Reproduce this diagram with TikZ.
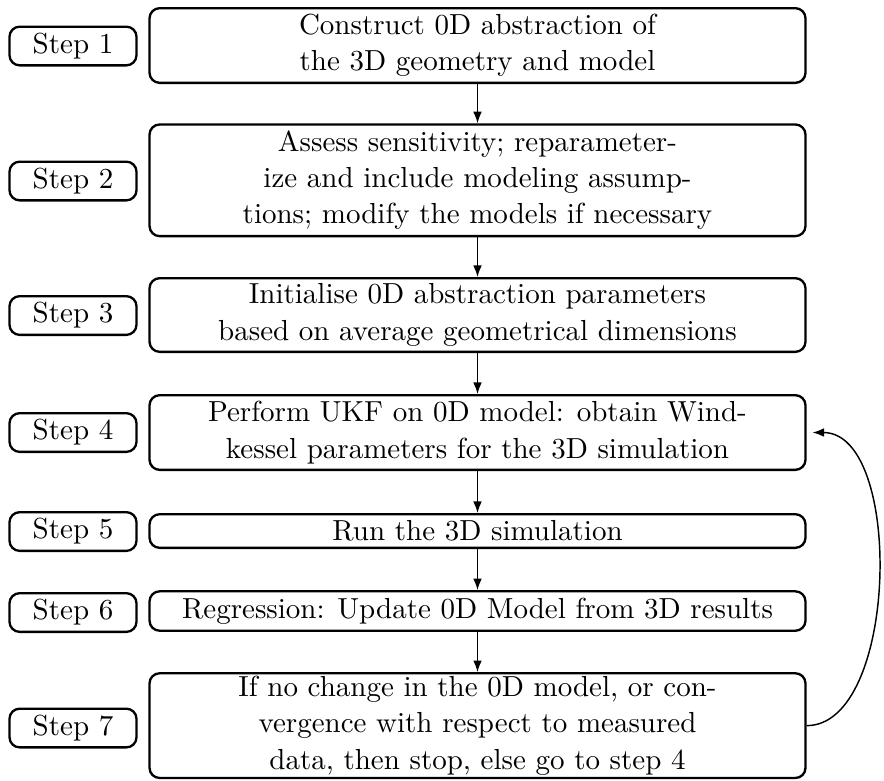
\documentclass[tikz,border=0pt]{standalone}
\usetikzlibrary{arrows.meta}
\begin{document}
\begin{tikzpicture}[x=0.34483pt,y=-0.34483pt,
  box/.style={draw, line width=0.8pt, rounded corners=3.5pt, inner sep=1pt, align=center,
    font=\fontsize{10pt}{12.5pt}\selectfont},
  stepbox/.style={box, minimum width=43.8pt, minimum height=13.34pt},
  mainbox/.style={box, minimum width=226.2pt},
  arr/.style={-{Latex[length=4pt,width=3pt]}, line width=0.5pt}]
\useasboundingbox (0,0) rectangle (884,780);
% step labels
\node[stepbox] (s1) at (73,46) {Step 1};
\node[stepbox] (s2) at (73,181) {Step 2};
\node[stepbox] (s3) at (73,315.5) {Step 3};
\node[stepbox] (s4) at (73,432.5) {Step 4};
\node[stepbox] (s5) at (73,531.5) {Step 5};
\node[stepbox] (s6) at (73,612.5) {Step 6};
\node[stepbox] (s7) at (73,728) {Step 7};
% main boxes
\node[mainbox, minimum height=25.75pt] (b1) at (477.5,45.5)
  {Construct 0D abstraction of\\the 3D geometry and model};
\node[mainbox, minimum height=38.5pt] (b2) at (477.5,180.3)
  {Assess sensitivity; reparameter-\\ize and include modeling assump-\\tions; modify the models if necessary};
\node[mainbox, minimum height=25.4pt] (b3) at (477.5,315)
  {Initialise 0D abstraction parameters\\based on average geometrical dimensions};
\node[mainbox, minimum height=25.75pt] (b4) at (477.5,432.5)
  {Perform UKF on 0D model: obtain Wind-\\kessel parameters for the 3D simulation};
\node[mainbox, minimum height=11.6pt] (b5) at (477.5,531)
  {Run the 3D simulation};
\node[mainbox, minimum height=13.6pt] (b6) at (477.5,611)
  {Regression: Update 0D Model from 3D results};
\node[mainbox, minimum height=36pt] (b7) at (477.5,725.6)
  {If no change in the 0D model, or con-\\vergence with respect to measured\\data, then stop, else go to step 4};
% connectors
\draw[arr] (b1) -- (b2);
\draw[arr] (b2) -- (b3);
\draw[arr] (b3) -- (b4);
\draw[arr] (b4) -- (b5);
\draw[arr] (b5) -- (b6);
\draw[arr] (b6) -- (b7);
\draw[arr] (b7.east) to[out=0, in=0, looseness=0.8] ([xshift=2pt]b4.east);
\end{tikzpicture}
\end{document}
